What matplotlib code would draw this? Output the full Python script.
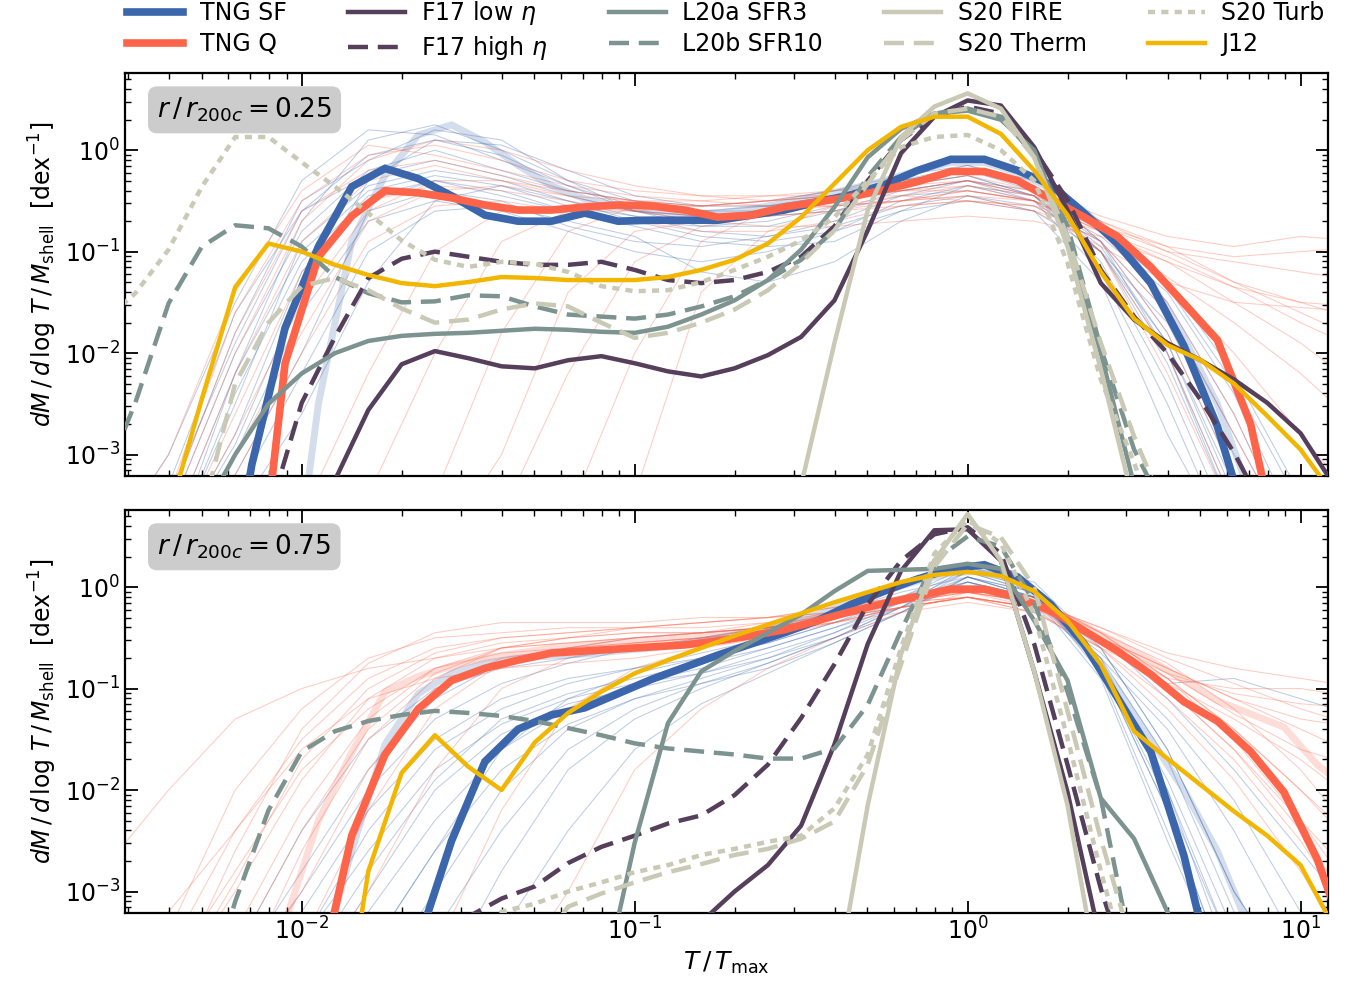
import numpy as np
import matplotlib
matplotlib.use("Agg")
import matplotlib.pyplot as plt
from matplotlib.lines import Line2D

# ---------------------------------------------------------------------------
# Data: log10(T/Tmax) grids and log10(dM/dlogT/Mshell) values
# ---------------------------------------------------------------------------
# grid used by the model curves
log_t_model = [-2.6, -2.5, -2.4, -2.3, -2.2, -2.1, -2.0, -1.9, -1.8, -1.7,
               -1.6, -1.5, -1.4, -1.3, -1.2, -1.1, -1.0, -0.9, -0.8, -0.7,
               -0.6, -0.5, -0.4, -0.3, -0.2, -0.1, 0.0, 0.1, 0.2, 0.3,
               0.4, 0.5, 0.6, 0.7, 0.8, 0.9, 1.0, 1.1]
# grid (bin centres) used by the TNG medians
log_t_tng = [-2.55, -2.45, -2.35, -2.25, -2.15, -2.05, -1.95, -1.85, -1.75,
             -1.65, -1.55, -1.45, -1.35, -1.25, -1.15, -1.05, -0.95, -0.85,
             -0.75, -0.65, -0.55, -0.45, -0.35, -0.25, -0.15, -0.05, 0.05,
             0.15, 0.25, 0.35, 0.45, 0.55, 0.65, 0.75, 0.85, 0.95, 1.05, 1.15]
# coarse grid for the individual TNG haloes
log_t_thin = [-2.6, -2.4, -2.2, -2.0, -1.8, -1.6, -1.4, -1.2, -1.0, -0.8,
              -0.6, -0.4, -0.2, 0.0, 0.2, 0.4, 0.6, 0.8, 1.0, 1.2]

# ----- r/r200c = 0.25 -----
tng_sf_a = [-5, -5, -5, -5, -3.1, -1.75, -0.95, -0.36, -0.18, -0.28, -0.45,
            -0.64, -0.70, -0.70, -0.62, -0.70, -0.69, -0.69, -0.69, -0.64,
            -0.59, -0.51, -0.44, -0.34, -0.20, -0.09, -0.09, -0.20, -0.34,
            -0.62, -0.92, -1.31, -1.93, -2.72, -3.8, -5, -5, -5]
tng_q_a = [-5, -5, -5, -5, -5, -2.1, -1.05, -0.65, -0.40, -0.42, -0.47,
           -0.54, -0.59, -0.59, -0.56, -0.54, -0.55, -0.59, -0.66, -0.64,
           -0.56, -0.51, -0.46, -0.39, -0.31, -0.21, -0.21, -0.30, -0.48,
           -0.66, -0.85, -1.15, -1.51, -1.87, -2.7, -4.2, -5, -5]
tng_sf_faint_a = [-5, -5, -5, -5, -5, -5, -2.5, -0.9, -0.25, 0.15, 0.25, 0.08,
                  -0.15, -0.35, -0.48, -0.55, -0.60, -0.62, -0.62, -0.58,
                  -0.52, -0.45, -0.38, -0.30, -0.20, -0.12, -0.12, -0.22,
                  -0.38, -0.60, -0.90, -1.30, -1.85, -2.5, -3.4, -5, -5, -5]
f17_low_a = [-5, -5, -5, -5, -5, -5, -5, -3.25, -2.56, -2.11, -1.98, -2.05,
             -2.13, -2.15, -2.07, -2.03, -2.10, -2.18, -2.23, -2.15, -2.02,
             -1.84, -1.48, -0.79, -0.03, 0.33, 0.49, 0.44, 0.03, -0.59, -1.31,
             -1.67, -1.90, -2.07, -2.26, -2.49, -2.79, -3.3]
f17_high_a = [-5, -5, -5, -5, -5, -3.6, -2.49, -1.84, -1.26, -1.07, -1.0,
              -1.05, -1.10, -1.13, -1.13, -1.10, -1.18, -1.28, -1.31, -1.28,
              -1.20, -1.05, -0.75, -0.30, 0.10, 0.33, 0.43, 0.36, 0.0, -0.49,
              -1.18, -1.64, -2.0, -2.46, -2.98, -3.6, -4.5, -5]
l20a_a = [-5, -5, -5, -3.6, -3.0, -2.5, -2.2, -2.0, -1.88, -1.83, -1.81,
          -1.80, -1.78, -1.76, -1.77, -1.79, -1.80, -1.74, -1.62, -1.48,
          -1.28, -0.98, -0.56, -0.07, 0.21, 0.36, 0.39, 0.30, 0.0, -0.85,
          -2.0, -3.3, -5, -5, -5, -5, -5, -5]
l20b_a = [-3.3, -2.49, -1.51, -0.95, -0.74, -0.77, -0.95, -1.25, -1.41,
          -1.50, -1.49, -1.43, -1.44, -1.54, -1.62, -1.64, -1.66, -1.62,
          -1.54, -1.44, -1.28, -1.08, -0.79, -0.26, 0.13, 0.36, 0.41, 0.33,
          -0.05, -0.75, -1.95, -2.95, -3.6, -5, -5, -5, -5, -5]
s20_fire_a = [-5, -5, -5, -5, -5, -5, -5, -5, -5, -5, -5, -5, -5, -5, -5, -5,
              -5, -5, -5, -5, -5, -3.3, -1.9, -0.59, 0.13, 0.43, 0.56, 0.41,
              -0.07, -0.95, -2.16, -3.5, -5, -5, -5, -5, -5, -5]
s20_therm_a = [-5, -5, -5, -3.6, -2.30, -1.70, -1.34, -1.26, -1.38, -1.56,
               -1.70, -1.67, -1.57, -1.51, -1.54, -1.70, -1.85, -1.80, -1.70,
               -1.57, -1.38, -1.11, -0.79, -0.33, 0.10, 0.36, 0.41, 0.33,
               -0.07, -0.85, -1.90, -2.82, -3.6, -5, -5, -5, -5, -5]
s20_turb_a = [-1.7, -1.41, -0.98, -0.36, 0.13, 0.13, -0.12, -0.36, -0.62,
              -0.89, -1.08, -1.15, -1.10, -1.12, -1.20, -1.34, -1.39, -1.38,
              -1.30, -1.18, -1.05, -0.89, -0.66, -0.30, 0.03, 0.13, 0.15, 0.0,
              -0.30, -1.11, -2.26, -3.08, -4, -5, -5, -5, -5, -5]
j12_a = [-5, -5, -3.6, -2.45, -1.35, -0.92, -1.0, -1.13, -1.23, -1.31, -1.34,
         -1.30, -1.25, -1.26, -1.28, -1.28, -1.28, -1.25, -1.18, -1.08, -0.92,
         -0.66, -0.33, 0.0, 0.23, 0.33, 0.33, 0.16, -0.20, -0.64, -1.20,
         -1.66, -1.92, -2.07, -2.30, -2.62, -2.95, -3.4]

thin_sf_a = [
    [-4, -4, -2.8, -1.2, -0.5, -0.3, -0.45, -0.6, -0.7, -0.75, -0.7, -0.55, -0.35, -0.25, -0.45, -1.0, -2.0, -3.5, -4, -4],
    [-4, -3.5, -1.8, -0.5, -0.1, 0.2, 0.1, -0.3, -0.6, -0.7, -0.65, -0.5, -0.3, -0.15, -0.35, -0.9, -1.8, -3.2, -4, -4],
    [-4, -4, -3.2, -2.0, -0.6, -0.4, -0.5, -0.75, -0.9, -0.95, -0.85, -0.7, -0.45, -0.3, -0.4, -0.8, -1.5, -2.6, -4, -4],
    [-4, -3.0, -1.5, -0.3, 0.2, 0.15, -0.1, -0.35, -0.55, -0.6, -0.6, -0.5, -0.35, -0.25, -0.45, -1.1, -2.3, -3.8, -4, -4],
    [-4, -4, -2.5, -0.9, -0.35, -0.2, -0.3, -0.5, -0.65, -0.8, -0.85, -0.75, -0.55, -0.45, -0.55, -0.9, -1.6, -2.8, -4, -4],
    [-4, -4, -3.0, -1.6, -0.7, -0.5, -0.6, -0.8, -1.0, -1.1, -1.0, -0.8, -0.5, -0.35, -0.5, -1.2, -2.5, -4, -4, -4],
    [-4, -3.6, -2.0, -0.8, -0.2, 0.0, -0.2, -0.4, -0.5, -0.55, -0.5, -0.4, -0.25, -0.15, -0.3, -0.7, -1.3, -2.2, -3.4, -4],
    [-4, -4, -3.4, -2.2, -1.0, -0.6, -0.55, -0.7, -0.85, -1.2, -1.3, -1.1, -0.7, -0.45, -0.6, -1.3, -2.8, -4, -4, -4],
    [-4, -3.8, -2.2, -1.0, -0.4, -0.25, -0.35, -0.55, -0.65, -0.7, -0.65, -0.6, -0.45, -0.4, -0.5, -0.85, -1.4, -2.4, -3.8, -4],
    [-4, -4, -2.2, -0.7, 0.1, 0.25, 0.0, -0.3, -0.5, -0.6, -0.55, -0.45, -0.3, -0.2, -0.4, -1.0, -2.1, -3.6, -4, -4],
    [-4, -3.3, -1.6, -0.6, -0.25, -0.1, -0.25, -0.45, -0.6, -0.65, -0.6, -0.5, -0.4, -0.3, -0.45, -0.95, -1.9, -3.3, -4, -4],
    [-4, -4, -2.9, -1.4, -0.3, 0.1, 0.05, -0.2, -0.45, -0.55, -0.55, -0.45, -0.3, -0.2, -0.35, -0.75, -1.35, -2.3, -3.5, -4],
    [-4, -4, -3.6, -2.6, -1.3, -0.5, -0.35, -0.5, -0.7, -0.85, -0.9, -0.8, -0.6, -0.5, -0.6, -1.0, -1.7, -3.0, -4, -4],
    [-4, -3.4, -1.9, -0.6, -0.05, 0.1, -0.05, -0.35, -0.6, -0.75, -0.75, -0.6, -0.4, -0.3, -0.5, -1.0, -1.9, -3.4, -4, -4],
    [-4, -4, -2.4, -1.1, -0.45, -0.3, -0.4, -0.6, -0.75, -0.9, -0.95, -0.9, -0.6, -0.35, -0.45, -0.9, -2.0, -3.6, -4, -4],
]
thin_q_a = [
    [-4, -3.5, -1.8, -0.6, -0.2, -0.1, -0.25, -0.4, -0.5, -0.55, -0.5, -0.45, -0.4, -0.3, -0.45, -0.75, -1.0, -1.1, -1.2, -1.3],
    [-4, -4, -2.6, -1.2, -0.5, -0.35, -0.4, -0.5, -0.6, -0.65, -0.6, -0.5, -0.35, -0.25, -0.4, -0.8, -1.5, -2.6, -4, -4],
    [-4, -3.0, -1.4, -0.4, 0.05, -0.05, -0.2, -0.35, -0.45, -0.5, -0.55, -0.55, -0.5, -0.45, -0.5, -0.7, -0.95, -1.3, -1.6, -1.9],
    [-4, -4, -4, -4, -4, -3.4, -1.8, -0.8, -0.55, -0.55, -0.5, -0.4, -0.3, -0.2, -0.35, -0.9, -1.8, -3.2, -4, -4],
    [-4, -4, -3.0, -1.8, -0.7, -0.4, -0.35, -0.45, -0.6, -0.7, -0.75, -0.75, -0.7, -0.65, -0.7, -0.85, -1.1, -1.5, -1.9, -2.4],
    [-4, -4, -4, -4, -4, -4, -4, -3.6, -2.0, -0.9, -0.6, -0.5, -0.4, -0.3, -0.45, -1.0, -2.2, -3.6, -4, -4],
    [-4, -3.8, -2.2, -0.9, -0.3, -0.15, -0.3, -0.45, -0.5, -0.5, -0.45, -0.4, -0.35, -0.3, -0.4, -0.65, -0.85, -0.95, -0.85, -0.9],
    [-4, -4, -3.2, -2.0, -0.9, -0.55, -0.5, -0.6, -0.7, -0.8, -0.8, -0.7, -0.55, -0.5, -0.55, -0.9, -1.6, -2.8, -4, -4],
    [-4, -4, -4, -4, -3.4, -2.0, -0.9, -0.6, -0.6, -0.55, -0.5, -0.45, -0.4, -0.4, -0.5, -0.8, -1.25, -1.7, -2.2, -2.8],
    [-4, -4, -4, -4, -4, -4, -3.0, -1.4, -0.8, -0.7, -0.6, -0.55, -0.5, -0.45, -0.6, -0.95, -1.3, -1.5, -1.55, -1.6],
    [-4, -3.6, -2.0, -0.7, -0.1, 0.1, 0.0, -0.2, -0.35, -0.45, -0.5, -0.45, -0.4, -0.35, -0.45, -0.7, -1.0, -1.3, -1.5, -1.7],
    [-4, -4, -2.8, -1.5, -0.6, -0.3, -0.3, -0.4, -0.5, -0.55, -0.55, -0.55, -0.5, -0.4, -0.5, -0.8, -1.3, -2.0, -2.8, -3.6],
    [-4, -4, -4, -4, -4, -4, -4, -4, -3.4, -1.4, -0.8, -0.55, -0.45, -0.35, -0.5, -1.0, -2.0, -3.5, -4, -4],
    [-4, -4, -4, -3.6, -2.2, -1.0, -0.6, -0.55, -0.6, -0.65, -0.65, -0.6, -0.5, -0.4, -0.5, -0.8, -1.1, -1.35, -1.5, -1.55],
    [-4, -3.4, -1.6, -0.5, -0.05, 0.05, -0.1, -0.3, -0.4, -0.45, -0.45, -0.45, -0.45, -0.5, -0.6, -0.8, -1.05, -1.35, -1.7, -2.0],
    [-4, -4, -4, -4, -4, -4, -3.6, -2.2, -1.1, -0.75, -0.65, -0.6, -0.55, -0.5, -0.55, -0.75, -0.95, -1.05, -1.0, -0.95],
]

# ----- r/r200c = 0.75 -----
tng_sf_b = [-5, -5, -5, -5, -5, -5, -5, -5, -5, -3.5, -2.50, -1.72, -1.40,
            -1.26, -1.19, -1.05, -0.91, -0.79, -0.67, -0.56, -0.45, -0.33,
            -0.17, -0.04, 0.08, 0.18, 0.22, 0.10, -0.17, -0.56, -1.09, -1.62,
            -2.65, -4, -5, -5, -5, -5]
tng_q_b = [-5, -5, -5, -5, -5, -5, -3.9, -2.45, -1.65, -1.20, -0.92, -0.80,
           -0.72, -0.65, -0.63, -0.61, -0.59, -0.57, -0.53, -0.48, -0.42,
           -0.33, -0.24, -0.16, -0.09, -0.02, -0.02, -0.10, -0.23, -0.43,
           -0.63, -0.86, -1.13, -1.32, -1.62, -2.02, -2.68, -3.6]
tng_sf_faint_b = [-5, -5, -5, -5, -5, -5, -3.8, -2.6, -1.55, -1.05, -0.85,
                  -0.75, -0.70, -0.68, -0.66, -0.63, -0.60, -0.56, -0.50,
                  -0.44, -0.36, -0.27, -0.15, -0.04, 0.06, 0.14, 0.16, 0.05,
                  -0.20, -0.58, -1.0, -1.5, -2.0, -2.6, -3.4, -5, -5, -5]
tng_q_faint_b = [-5, -5, -5, -5, -5, -3.3, -2.3, -1.63, -1.03, -0.88, -0.78,
                 -0.70, -0.65, -0.60, -0.57, -0.54, -0.52, -0.50, -0.47, -0.43,
                 -0.38, -0.30, -0.22, -0.15, -0.08, -0.03, -0.03, -0.10, -0.22,
                 -0.38, -0.55, -0.72, -0.92, -1.12, -1.25, -1.38, -1.75, -2.0]
f17_low_b = [-5, -5, -5, -5, -5, -5, -5, -5, -5, -5, -5, -5, -5, -5, -5, -5,
             -5, -5, -3.3, -3.0, -2.74, -2.35, -1.55, -0.56, 0.16, 0.56, 0.57,
             0.26, -0.83, -2.02, -3.5, -5, -5, -5, -5, -5, -5, -5]
f17_high_b = [-5, -5, -5, -5, -5, -5, -5, -5, -5, -5, -3.5, -3.25, -3.07,
              -2.95, -2.72, -2.56, -2.45, -2.33, -2.25, -2.05, -1.75, -1.29,
              -0.76, -0.17, 0.26, 0.52, 0.59, 0.33, -0.56, -1.75, -2.97, -4,
              -5, -5, -5, -5, -5, -5]
l20a_b = [-5, -5, -5, -5, -5, -5, -5, -5, -5, -5, -5, -5, -5, -5, -5, -4,
          -2.52, -1.34, -0.83, -0.63, -0.45, -0.27, -0.04, 0.16, 0.17, 0.18,
          0.23, 0.18, -0.33, -0.92, -2.08, -2.48, -3.2, -4, -5, -5, -5, -5]
l20b_b = [-5, -5, -5, -4.2, -3.1, -2.2, -1.62, -1.42, -1.32, -1.26, -1.22,
          -1.24, -1.27, -1.32, -1.39, -1.46, -1.54, -1.59, -1.62, -1.65,
          -1.69, -1.69, -1.59, -1.16, -0.43, 0.26, 0.50, 0.40, -0.15, -1.03,
          -2.08, -3.7, -5, -5, -5, -5, -5, -5]
s20_fire_b = [-5, -5, -5, -5, -5, -5, -5, -5, -5, -5, -5, -5, -5, -5, -5, -5,
              -5, -5, -5, -5, -5, -5, -4, -2.15, -0.66, 0.26, 0.72, 0.26,
              -0.83, -2.15, -4, -5, -5, -5, -5, -5, -5, -5]
s20_therm_b = [-5, -5, -5, -5, -5, -5, -5, -5, -5, -5, -5, -5, -5, -3.6,
               -3.15, -3.02, -2.91, -2.81, -2.73, -2.64, -2.58, -2.48, -2.31,
               -1.75, -0.76, 0.20, 0.62, 0.49, 0.0, -1.22, -2.48, -3.6, -5,
               -5, -5, -5, -5, -5]
s20_turb_b = [-5, -5, -5, -5, -5, -5, -5, -5, -5, -5, -5, -3.6, -3.2, -3.12,
              -3.0, -2.91, -2.81, -2.74, -2.64, -2.58, -2.51, -2.45, -2.18,
              -1.65, -0.60, 0.33, 0.66, 0.43, -0.27, -1.49, -2.8, -4, -5, -5,
              -5, -5, -5, -5]
j12_b = [-5, -5, -5, -5, -5, -5, -5, -4.9, -2.8, -1.83, -1.46, -1.77, -2.0,
         -1.53, -1.24, -1.03, -0.85, -0.72, -0.60, -0.48, -0.37, -0.26, -0.15,
         -0.05, 0.05, 0.12, 0.15, 0.11, -0.04, -0.33, -0.76, -1.42, -1.69,
         -1.95, -2.21, -2.45, -2.74, -3.35]

thin_sf_b = [
    [-4, -4, -4, -3.5, -2.4, -1.6, -1.2, -0.95, -0.8, -0.65, -0.5, -0.3, -0.1, 0.15, -0.05, -0.8, -2.2, -4, -4, -4],
    [-4, -4, -4, -4, -3.2, -2.3, -1.6, -1.2, -0.95, -0.8, -0.6, -0.4, -0.15, 0.1, -0.1, -0.9, -2.5, -4, -4, -4],
    [-4, -4, -3.6, -2.4, -1.5, -1.0, -0.8, -0.7, -0.6, -0.55, -0.45, -0.3, -0.1, 0.05, -0.1, -0.6, -1.6, -3.0, -4, -4],
    [-4, -4, -4, -4, -4, -3.0, -2.0, -1.4, -1.1, -0.9, -0.7, -0.45, -0.2, 0.2, 0.0, -0.7, -2.0, -3.8, -4, -4],
    [-4, -4, -4, -3.8, -2.8, -1.9, -1.3, -1.05, -0.9, -0.75, -0.6, -0.4, -0.2, 0.0, -0.2, -0.7, -1.4, -2.4, -3.6, -4],
    [-4, -4, -4, -4, -3.6, -2.6, -1.8, -1.35, -1.1, -0.95, -0.8, -0.55, -0.25, 0.1, -0.05, -0.75, -1.9, -3.4, -4, -4],
    [-4, -4, -3.9, -3.0, -2.0, -1.3, -0.95, -0.75, -0.6, -0.5, -0.4, -0.25, -0.05, 0.1, -0.1, -0.5, -0.95, -0.9, -1.1, -1.3],
    [-4, -4, -4, -4, -4, -4, -2.8, -1.8, -1.3, -1.0, -0.75, -0.5, -0.2, 0.15, -0.05, -0.85, -2.4, -4, -4, -4],
    [-4, -4, -4, -3.2, -2.2, -1.5, -1.1, -0.9, -0.8, -0.7, -0.55, -0.35, -0.15, 0.05, -0.15, -0.65, -1.3, -2.1, -3.2, -4],
    [-4, -4, -4, -4, -3.0, -2.0, -1.45, -1.15, -1.0, -0.85, -0.65, -0.45, -0.15, 0.15, 0.0, -0.75, -2.0, -3.6, -4, -4],
    [-4, -4, -4, -4, -4, -3.4, -2.4, -1.6, -1.2, -0.95, -0.75, -0.5, -0.2, 0.1, -0.1, -0.8, -2.1, -3.6, -4, -4],
    [-4, -4, -3.8, -2.8, -1.8, -1.1, -0.75, -0.6, -0.5, -0.45, -0.4, -0.3, -0.15, 0.05, -0.1, -0.5, -1.1, -1.8, -2.6, -3.4],
    [-4, -4, -4, -4, -3.6, -2.6, -1.6, -1.1, -0.85, -0.7, -0.55, -0.35, -0.1, 0.2, 0.05, -0.6, -1.6, -3.0, -4, -4],
    [-4, -4, -4, -3.5, -2.6, -1.8, -1.35, -1.1, -0.95, -0.85, -0.7, -0.5, -0.25, 0.05, -0.1, -0.7, -1.7, -3.2, -4, -4],
    [-4, -4, -4, -4, -4, -4, -3.4, -2.4, -1.6, -1.15, -0.85, -0.55, -0.25, 0.1, -0.05, -0.8, -2.2, -4, -4, -4],
]
thin_q_b = [
    [-4, -3.2, -2.4, -1.5, -0.9, -0.6, -0.5, -0.45, -0.4, -0.35, -0.3, -0.2, -0.1, -0.05, -0.15, -0.4, -0.7, -0.95, -1.2, -1.4],
    [-4, -4, -3.0, -1.9, -1.1, -0.7, -0.55, -0.5, -0.45, -0.45, -0.4, -0.3, -0.15, -0.1, -0.2, -0.55, -0.95, -1.3, -1.7, -2.2],
    [-2.8, -2.0, -1.3, -1.0, -0.8, -0.7, -0.6, -0.55, -0.5, -0.45, -0.4, -0.3, -0.2, -0.1, -0.2, -0.5, -0.8, -1.1, -1.3, -1.4],
    [-4, -4, -4, -2.6, -1.5, -0.9, -0.6, -0.5, -0.4, -0.35, -0.3, -0.2, -0.1, 0.0, -0.1, -0.45, -0.9, -1.5, -2.3, -3.2],
    [-4, -4, -3.4, -2.2, -1.3, -0.8, -0.65, -0.6, -0.55, -0.5, -0.45, -0.35, -0.2, -0.1, -0.25, -0.6, -0.9, -1.0, -1.0, -1.1],
    [-4, -4, -4, -3.5, -2.2, -1.2, -0.75, -0.6, -0.5, -0.45, -0.35, -0.25, -0.15, -0.05, -0.15, -0.45, -0.75, -1.2, -1.8, -2.6],
    [-4, -4, -2.6, -1.4, -0.75, -0.45, -0.35, -0.35, -0.35, -0.3, -0.3, -0.25, -0.15, -0.1, -0.2, -0.5, -0.85, -1.25, -1.6, -1.8],
    [-4, -4, -4, -4, -3.0, -1.8, -1.0, -0.7, -0.55, -0.5, -0.4, -0.3, -0.15, -0.05, -0.15, -0.5, -1.0, -1.6, -2.4, -3.4],
    [-4, -4, -4, -4, -4, -4, -4, -3.0, -1.8, -1.2, -0.8, -0.5, -0.25, -0.05, -0.2, -0.6, -1.1, -1.7, -2.5, -3.5],
    [-4, -3.6, -2.4, -1.6, -1.1, -0.9, -0.8, -0.75, -0.7, -0.6, -0.5, -0.35, -0.2, -0.1, -0.25, -0.6, -1.2, -1.9, -2.8, -3.8],
    [-4, -4, -2.9, -1.7, -1.0, -0.65, -0.5, -0.45, -0.4, -0.4, -0.35, -0.3, -0.2, -0.1, -0.2, -0.5, -0.9, -1.4, -2.0, -2.6],
    [-4, -3.4, -2.0, -1.2, -0.7, -0.5, -0.45, -0.4, -0.4, -0.35, -0.3, -0.25, -0.15, -0.05, -0.15, -0.4, -0.65, -0.8, -0.9, -1.0],
    [-4, -4, -4, -3.0, -1.8, -1.0, -0.7, -0.6, -0.55, -0.5, -0.45, -0.35, -0.2, -0.1, -0.2, -0.5, -0.8, -1.1, -1.4, -1.7],
    [-4, -4, -3.6, -2.4, -1.4, -0.85, -0.6, -0.55, -0.5, -0.45, -0.4, -0.3, -0.2, -0.1, -0.2, -0.5, -1.0, -1.6, -2.3, -3.0],
    [-4, -4, -4, -4, -4, -3.6, -2.2, -1.2, -0.8, -0.6, -0.45, -0.3, -0.15, 0.0, -0.1, -0.45, -0.9, -1.4, -2.0, -2.7],
    [-4, -3.8, -2.8, -1.8, -1.2, -0.8, -0.6, -0.5, -0.45, -0.45, -0.4, -0.35, -0.25, -0.15, -0.25, -0.55, -0.85, -1.05, -1.15, -1.2],
]

panel_labels = [r"$r\,/\,r_{200c} = 0.25$", r"$r\,/\,r_{200c} = 0.75$"]

# colours
C_SF = "#3b66ab"
C_Q = "#fe6449"
C_F17 = "#553f5b"
C_L20 = "#7c9390"
C_S20 = "#c9c9b5"
C_J12 = "#f2b600"

DASH = (0, (4.5, 2.2))
DOT = (0, (1.6, 1.4))


def to_lin(vals):
    '''Convert log10 values to linear values for plotting on a log axis.'''
    return 10.0 ** np.asarray(vals, dtype=float)


def draw_panel(ax, thin_sf, thin_q, sf, q, faint, models, label):
    '''Draw one radial shell: individual haloes, TNG medians and models.'''
    x_thin = to_lin(log_t_thin)
    x_tng = to_lin(log_t_tng)
    x_mod = to_lin(log_t_model)

    # individual haloes
    for vals in thin_sf:
        ax.plot(x_thin, to_lin(vals), color=C_SF, lw=0.75, alpha=0.33,
                zorder=1)
    for vals in thin_q:
        ax.plot(x_thin, to_lin(vals), color=C_Q, lw=0.75, alpha=0.33,
                zorder=1)

    # faint medians of other subsamples
    for vals, col in faint:
        ax.plot(x_tng, to_lin(vals), color=col, lw=5, alpha=0.22, zorder=2,
                solid_capstyle="butt")

    # TNG medians
    ax.plot(x_tng, to_lin(sf), color=C_SF, lw=5.5, zorder=3,
            solid_joinstyle="miter")
    ax.plot(x_tng, to_lin(q), color=C_Q, lw=5.5, zorder=3,
            solid_joinstyle="miter")

    # models
    for vals, col, ls in models:
        ax.plot(x_mod, to_lin(vals), color=col, lw=3.2, ls=ls, zorder=4)

    ax.text(0.027, 0.945, label, transform=ax.transAxes, fontsize=19,
            va="top", ha="left", zorder=6,
            bbox=dict(boxstyle="round,pad=0.35", fc="#cccccc", ec="none"))

    ax.set_xscale("log")
    ax.set_yscale("log")
    ax.set_xlim(0.00294, 12.05)
    ax.set_ylim(6.2e-4, 5.7)
    ax.tick_params(which="both", direction="in", top=True, right=True,
                   labelsize=17)
    ax.tick_params(which="major", length=9, width=1.3)
    ax.tick_params(which="minor", length=4.5, width=1.0)
    for sp in ax.spines.values():
        sp.set_linewidth(1.6)
    ax.set_ylabel(r"$dM\,/\,d\,\log\,T\,/\,M_{\rm shell}$  [dex$^{-1}$]",
                  fontsize=17)


def main():
    plt.rcParams["mathtext.fontset"] = "dejavusans"
    plt.rcParams["font.family"] = "DejaVu Sans"

    fig = plt.figure(figsize=(13.56, 9.93), dpi=100)
    ax1 = fig.add_axes([0.092, 0.521, 0.887, 0.405])
    ax2 = fig.add_axes([0.092, 0.081, 0.887, 0.405], sharex=ax1)

    models_a = [
        (f17_low_a, C_F17, "-"), (f17_high_a, C_F17, DASH),
        (l20a_a, C_L20, "-"), (l20b_a, C_L20, DASH),
        (s20_fire_a, C_S20, "-"), (s20_therm_a, C_S20, DASH),
        (s20_turb_a, C_S20, DOT), (j12_a, C_J12, "-"),
    ]
    models_b = [
        (f17_low_b, C_F17, "-"), (f17_high_b, C_F17, DASH),
        (l20a_b, C_L20, "-"), (l20b_b, C_L20, DASH),
        (s20_fire_b, C_S20, "-"), (s20_therm_b, C_S20, DASH),
        (s20_turb_b, C_S20, DOT), (j12_b, C_J12, "-"),
    ]

    draw_panel(ax1, thin_sf_a, thin_q_a, tng_sf_a, tng_q_a,
               [(tng_sf_faint_a, C_SF)], models_a, panel_labels[0])
    draw_panel(ax2, thin_sf_b, thin_q_b, tng_sf_b, tng_q_b,
               [(tng_sf_faint_b, C_SF), (tng_q_faint_b, C_Q)], models_b,
               panel_labels[1])

    plt.setp(ax1.get_xticklabels(), visible=False)
    ax2.set_xlabel(r"$T\,/\,T_{\rm max}$", fontsize=18)

    # legend on top, filled column by column
    handles = [
        Line2D([], [], color=C_SF, lw=5.5),
        Line2D([], [], color=C_Q, lw=5.5),
        Line2D([], [], color=C_F17, lw=3.2),
        Line2D([], [], color=C_F17, lw=3.2, ls=DASH),
        Line2D([], [], color=C_L20, lw=3.2),
        Line2D([], [], color=C_L20, lw=3.2, ls=DASH),
        Line2D([], [], color=C_S20, lw=3.2),
        Line2D([], [], color=C_S20, lw=3.2, ls=DASH),
        Line2D([], [], color=C_S20, lw=3.2, ls=DOT),
        Line2D([], [], color=C_J12, lw=3.2),
    ]
    names = ["TNG SF", "TNG Q", r"F17 low $\eta$", r"F17 high $\eta$",
             "L20a SFR3", "L20b SFR10", "S20 FIRE", "S20 Therm", "S20 Turb",
             "J12"]
    fig.legend(handles, names, ncol=5, loc="upper center",
               bbox_to_anchor=(0.535, 1.022), frameon=False, fontsize=17,
               handlelength=2.4, columnspacing=2.6, labelspacing=0.3,
               handletextpad=0.7)

    fig.savefig("out.png", dpi=100)


if __name__ == "__main__":
    main()
